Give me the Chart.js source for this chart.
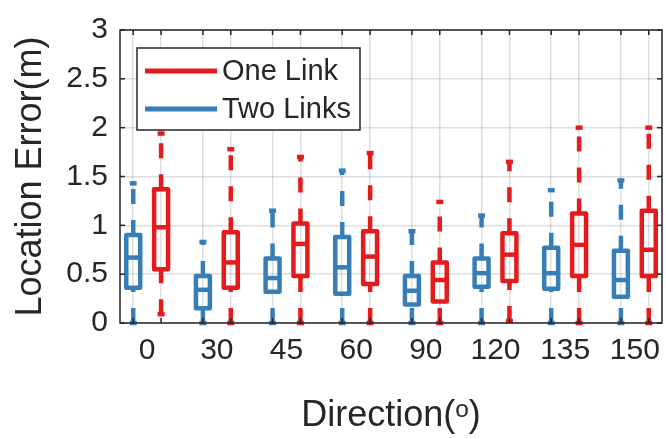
<!DOCTYPE html>
<html>
<head>
<meta charset="utf-8">
<script src="https://cdn.jsdelivr.net/npm/chart.js@4.4.1/dist/chart.umd.min.js"></script>
<style>
  html, body { margin: 0; padding: 0; background: #fff; }
  #wrap { width: 666px; height: 439px; }
</style>
</head>
<body>
<div id="wrap"><canvas id="boxChart"></canvas></div>
<script>
const directions = ['0', '30', '45', '60', '90', '120', '135', '150'];
const yTicks = [0, 0.5, 1, 1.5, 2, 2.5, 3];

// One Link (red) - whisker ends, quartiles and median
const oneLow = [0.09, 0, 0, 0, 0, 0.02, 0, 0];
const oneQ1 = [0.55, 0.36, 0.48, 0.40, 0.22, 0.43, 0.48, 0.48];
const oneMed = [0.98, 0.62, 0.81, 0.68, 0.44, 0.70, 0.80, 0.75];
const oneQ3 = [1.37, 0.93, 1.02, 0.94, 0.62, 0.92, 1.12, 1.15];
const oneHigh = [1.94, 1.78, 1.70, 1.74, 1.24, 1.65, 2.00, 2.00];

// Two Links (blue)
const twoLow = [0, 0, 0, 0, 0, 0, 0, 0];
const twoQ1 = [0.36, 0.15, 0.32, 0.30, 0.19, 0.37, 0.35, 0.27];
const twoMed = [0.67, 0.34, 0.46, 0.57, 0.33, 0.51, 0.51, 0.44];
const twoQ3 = [0.90, 0.48, 0.66, 0.88, 0.48, 0.66, 0.77, 0.74];
const twoHigh = [1.43, 0.83, 1.15, 1.56, 0.94, 1.10, 1.36, 1.46];

const RED = '#e41a1c';
const BLUE = '#377eb8';
const INK = '#262626';
const GRID = 'rgba(0,0,0,0.13)';
const FONT = "'Liberation Sans', Arial, Helvetica, sans-serif";

const boxWidth = 0.2;   // in x units
const capWidth = 0.1;
const shift = 0.2;      // offset of each box from the group centre

function makeDataset(label, color, off, low, q1, med, q3, high) {
  return {
    label: label,
    borderColor: color,
    backgroundColor: color,
    pointRadius: 0,
    data: directions.map((d, i) => ({ x: i + 1 + off, y: med[i] })),
    stats: { low, q1, med, q3, high }
  };
}

function line(ctx, x1, y1, x2, y2) {
  ctx.beginPath();
  ctx.moveTo(x1, y1);
  ctx.lineTo(x2, y2);
  ctx.stroke();
}

const boxPlugin = {
  id: 'boxes',
  afterDatasetsDraw(chart) {
    const { ctx, scales: { x, y } } = chart;
    chart.data.datasets.forEach(ds => {
      const s = ds.stats;
      ctx.save();
      ctx.strokeStyle = ds.borderColor;
      ctx.lineWidth = 4.5;
      ds.data.forEach((pt, i) => {
        const cx = x.getPixelForValue(pt.x);
        const half = (x.getPixelForValue(pt.x + boxWidth / 2) - x.getPixelForValue(pt.x - boxWidth / 2)) / 2;
        const capHalf = (x.getPixelForValue(pt.x + capWidth / 2) - x.getPixelForValue(pt.x - capWidth / 2)) / 2;
        const yLow = y.getPixelForValue(s.low[i]);
        const yQ1 = y.getPixelForValue(s.q1[i]);
        const yMed = y.getPixelForValue(s.med[i]);
        const yQ3 = y.getPixelForValue(s.q3[i]);
        const yHigh = y.getPixelForValue(s.high[i]);

        // dashed whiskers, drawn from the lower value upward
        ctx.lineCap = 'butt';
        ctx.setLineDash([15, 16]);
        line(ctx, cx, yLow, cx, yQ1);
        line(ctx, cx, yQ3, cx, yHigh);
        ctx.setLineDash([]);

        // whisker ends
        line(ctx, cx - capHalf, yLow, cx + capHalf, yLow);
        line(ctx, cx - capHalf, yHigh, cx + capHalf, yHigh);

        // box and median
        ctx.lineJoin = 'round';
        ctx.strokeRect(cx - half, yQ3, half * 2, yQ1 - yQ3);
        line(ctx, cx - half, yMed, cx + half, yMed);
      });
      ctx.restore();
    });
  }
};

const framePlugin = {
  id: 'frame',
  afterDraw(chart) {
    const { ctx, chartArea: a, scales: { x, y } } = chart;
    ctx.save();
    ctx.strokeStyle = INK;
    ctx.lineWidth = 1.5;
    ctx.strokeRect(a.left, a.top, a.right - a.left, a.bottom - a.top);

    // inward tick marks
    const tl = 5;
    y.ticks.forEach(t => {
      const py = y.getPixelForValue(t.value);
      line(ctx, a.left, py, a.left + tl, py);
      line(ctx, a.right, py, a.right - tl, py);
    });
    x.ticks.forEach((t, i) => {
      if (i % 3 === 1) return;
      const px = x.getPixelForValue(t.value);
      line(ctx, px, a.bottom, px, a.bottom - tl);
      line(ctx, px, a.top, px, a.top + tl);
    });

    // legend inside the axes
    const lx = a.left + 17, ly = a.top + 18, lw = 223, lh = 82;
    ctx.fillStyle = '#fff';
    ctx.fillRect(lx, ly, lw, lh);
    ctx.strokeRect(lx, ly, lw, lh);
    ctx.font = '29px ' + FONT;
    ctx.textBaseline = 'middle';
    ctx.textAlign = 'left';
    chart.data.datasets.forEach((ds, i) => {
      const rowY = ly + 23 + i * 38;
      ctx.strokeStyle = ds.borderColor;
      ctx.lineWidth = 5;
      line(ctx, lx + 8, rowY, lx + 80, rowY);
      ctx.fillStyle = INK;
      ctx.fillText(ds.label, lx + 85, rowY + 1);
    });
    ctx.restore();
  }
};

const ctx = document.getElementById('boxChart').getContext('2d');
new Chart(ctx, {
  type: 'scatter',
  data: {
    datasets: [
      makeDataset('One Link', RED, shift, oneLow, oneQ1, oneMed, oneQ3, oneHigh),
      makeDataset('Two Links', BLUE, -shift, twoLow, twoQ1, twoMed, twoQ3, twoHigh)
    ]
  },
  options: {
    responsive: true,
    maintainAspectRatio: false,
    animation: false,
    events: [],
    layout: { padding: { top: 20, right: 4, left: 0, bottom: 0 } },
    plugins: {
      legend: { display: false },
      tooltip: { enabled: false }
    },
    scales: {
      x: {
        type: 'linear',
        min: 0.61,
        max: 8.39,
        afterBuildTicks(scale) {
          const vals = [];
          directions.forEach((d, i) => vals.push(i + 1 - shift, i + 1, i + 1 + shift));
          scale.ticks = vals.map(v => ({ value: v }));
        },
        afterFit(scale) { scale.height = 116; },
        grid: {
          drawTicks: false,
          lineWidth: 1.5,
          color: c => (c.index % 3 === 1 ? 'transparent' : GRID)
        },
        border: { display: false },
        ticks: {
          autoSkip: false,
          maxRotation: 0,
          padding: 10,
          color: INK,
          font: { family: FONT, size: 30 },
          callback: (v, i) => (i % 3 === 1 ? directions[(i - 1) / 3] : '')
        },
        title: {
          display: true,
          text: 'Direction(ᵒ)',
          color: INK,
          font: { family: FONT, size: 36, lineHeight: 1.2 },
          padding: { top: 0, bottom: 1 }
        }
      },
      y: {
        min: 0,
        max: 3,
        afterBuildTicks(scale) {
          scale.ticks = yTicks.map(v => ({ value: v }));
        },
        afterFit(scale) { scale.width = 120; },
        grid: { drawTicks: false, lineWidth: 1.5, color: GRID },
        border: { display: false },
        ticks: {
          padding: 12,
          color: INK,
          font: { family: FONT, size: 30 },
          callback: v => String(v)
        },
        title: {
          display: true,
          text: 'Location Error(m)',
          color: INK,
          font: { family: FONT, size: 36, lineHeight: 1.2 },
          padding: { top: 9, bottom: 0 }
        }
      }
    }
  },
  plugins: [boxPlugin, framePlugin]
});
</script>
</body>
</html>
